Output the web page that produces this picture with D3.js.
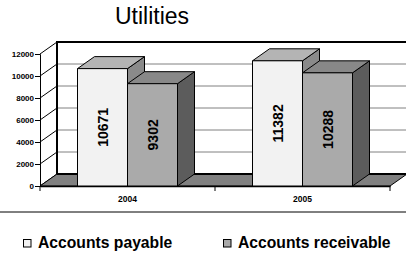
<!DOCTYPE html>
<html>
<head>
<meta charset="utf-8">
<style>
body { margin: 0; background: #fff; }
svg { display: block; font-family: "Liberation Sans", Arial, sans-serif; }
</style>
</head>
<body>
<div id="container"></div>
<script src="https://cdn.jsdelivr.net/npm/d3@7"></script>
<script>
// chart data
const title = "Utilities";
const years = ["2004", "2005"];
const seriesNames = ["Accounts payable", "Accounts receivable"];
const payable = [10671, 11382];
const receivable = [9302, 10288];
const yTicks = [0, 2000, 4000, 6000, 8000, 10000, 12000];

const seriesValues = [payable, receivable];
const frontColors = ["#f2f2f2", "#aaaaaa"];
const topColors = ["#b4b4b4", "#888888"];
const sideColors = ["#8a8a8a", "#5c5c5c"];

const font = "'Liberation Sans', Arial, sans-serif";
const width = 406, height = 270;
const plotLeft = 40, plotRight = 390, plotBottom = 186, plotTop = 54;
const dx = 17, dy = 12; // depth offset

const svg = d3.create("svg").attr("width", width).attr("height", height);

const y = d3.scaleLinear().domain([0, 12000]).range([plotBottom, plotTop]);
const x0 = d3.scaleBand().domain(years).range([plotLeft, plotRight]);
const x1 = d3.scaleBand().domain(seriesNames)
    .range([x0.bandwidth() / 2 - 50, x0.bandwidth() / 2 + 50]);

// title
svg.append("text")
    .attr("x", 152).attr("y", 24)
    .attr("text-anchor", "middle")
    .attr("font-size", 23)
    .text(title);

// back wall gridlines
svg.append("g").selectAll("line").data(yTicks.slice(1, -1)).join("line")
    .attr("x1", plotLeft + dx).attr("x2", width)
    .attr("y1", d => y(d) - dy).attr("y2", d => y(d) - dy)
    .attr("stroke", "#808080").attr("stroke-width", 1);

// side wall lines
svg.append("g").selectAll("line").data(yTicks).join("line")
    .attr("x1", plotLeft).attr("y1", d => y(d))
    .attr("x2", plotLeft + dx).attr("y2", d => y(d) - dy)
    .attr("stroke", "#000").attr("stroke-width", 1);

// wall outline
svg.append("path")
    .attr("d", `M${plotLeft + dx},${y(0) - dy}V${y(12000) - dy}H${width}`)
    .attr("fill", "none").attr("stroke", "#000").attr("stroke-width", 2);

// floor
svg.append("path")
    .attr("d", `M${plotLeft},${plotBottom}L${plotRight},${plotBottom}L${plotRight + dx},${plotBottom - dy}L${plotLeft + dx},${plotBottom - dy}Z`)
    .attr("fill", "#808080").attr("stroke", "#000").attr("stroke-width", 1);
svg.append("line")
    .attr("x1", plotLeft + dx).attr("x2", plotRight + dx)
    .attr("y1", plotBottom - dy).attr("y2", plotBottom - dy)
    .attr("stroke", "#000").attr("stroke-width", 2);

// y axis
svg.append("g")
    .attr("transform", `translate(${plotLeft},0)`)
    .call(d3.axisLeft(y).tickValues(yTicks).tickSize(5).tickPadding(1).tickFormat(d3.format("d")))
    .call(g => g.selectAll("text").attr("font-size", 8).attr("font-weight", "bold")
        .attr("font-family", font).attr("fill", "#000"))
    .call(g => g.selectAll("line, path").attr("stroke", "#000"));

// x axis
svg.append("g")
    .attr("transform", `translate(0,${plotBottom})`)
    .call(d3.axisBottom(x0).tickSize(0).tickPadding(10).tickSizeOuter(0))
    .call(g => g.select(".domain").attr("stroke", "#000").attr("stroke-width", 1.5))
    .call(g => g.selectAll("text").attr("font-size", 8.5).attr("font-weight", "bold")
        .attr("font-family", font).attr("fill", "#000"));
svg.append("g").selectAll("line").data([plotLeft, x0("2005"), plotRight]).join("line")
    .attr("x1", d => d).attr("x2", d => d)
    .attr("y1", plotBottom).attr("y2", plotBottom + 5)
    .attr("stroke", "#000");

// bars
const bars = [];
years.forEach((yr, i) => {
    seriesNames.forEach((s, j) => {
        bars.push({ year: yr, series: s, j, value: seriesValues[j][i] });
    });
});

const barG = svg.append("g");
bars.forEach(b => {
    const bx = x0(b.year) + x1(b.series);
    const bw = x1.bandwidth();
    const by = y(b.value);
    const g = barG.append("g").attr("stroke", "#000").attr("stroke-width", 1).attr("stroke-linejoin", "round");
    g.append("path")
        .attr("d", `M${bx + bw},${plotBottom}L${bx + bw + dx},${plotBottom - dy}L${bx + bw + dx},${by - dy}L${bx + bw},${by}Z`)
        .attr("fill", sideColors[b.j]);
    g.append("path")
        .attr("d", `M${bx},${by}L${bx + dx},${by - dy}L${bx + bw + dx},${by - dy}L${bx + bw},${by}Z`)
        .attr("fill", topColors[b.j]);
    g.append("rect")
        .attr("x", bx).attr("y", by).attr("width", bw).attr("height", plotBottom - by)
        .attr("fill", frontColors[b.j]);
    const cx = bx + bw / 2, cy = (by + plotBottom) / 2;
    barG.append("text")
        .attr("transform", `translate(${cx},${cy}) rotate(-90)`)
        .attr("text-anchor", "middle")
        .attr("dominant-baseline", "central")
        .attr("font-size", 14).attr("font-weight", "bold")
        .text(b.value);
});

// separator
svg.append("line")
    .attr("x1", 0).attr("x2", width).attr("y1", 212).attr("y2", 212)
    .attr("stroke", "#000").attr("stroke-width", 1);

// legend
const legendX = [23, 223];
const legend = svg.append("g").selectAll("g").data(seriesNames).join("g")
    .attr("transform", (d, i) => `translate(${legendX[i]},239)`);
legend.append("rect")
    .attr("x", 0.5).attr("y", 0.5).attr("width", 7.5).attr("height", 7.5)
    .attr("fill", (d, i) => frontColors[i]).attr("stroke", "#000");
legend.append("text")
    .attr("x", 15).attr("y", 8.9)
    .attr("font-size", 15.7).attr("font-weight", "bold")
    .text(d => d);

container.append(svg.node());
</script>
</body>
</html>
